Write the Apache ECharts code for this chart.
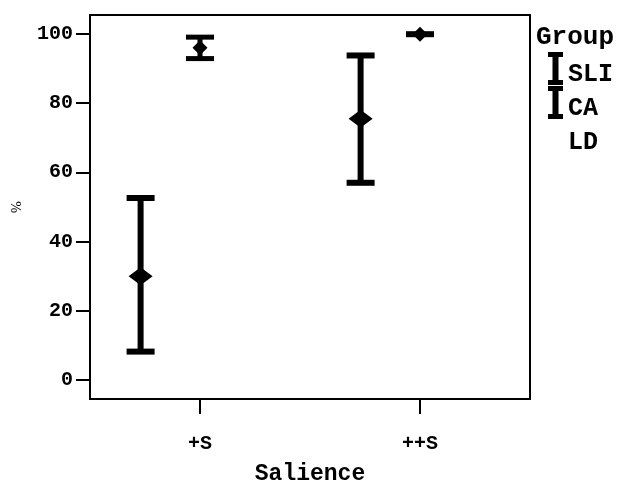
<!DOCTYPE html>
<html>
<head>
<meta charset="utf-8">
<script src="https://cdn.jsdelivr.net/npm/echarts@6/dist/echarts.min.js"></script>
<style>html,body{margin:0;padding:0;background:#fff;}#c{width:618px;height:482px;}</style>
</head>
<body>
<div id="c"></div>
<script>
// ---- data ----
var categories = ['+S', '++S'];
var groups = ['SLI', 'CA', 'LD'];
var sliMean = [30.0, 75.5];
var sliLow  = [8.2, 57.0];
var sliHigh = [52.6, 93.8];
var caMean  = [96.0, 99.9];
var caLow   = [92.9, 99.8];
var caHigh  = [99.1, 100.1];
var ldMean  = [];
var ldLow   = [];
var ldHigh  = [];
var yTicks  = [0, 20, 40, 60, 80, 100];

var FONT = '"Liberation Mono", "DejaVu Sans Mono", monospace';

function rows(mean, low, high) {
  var out = [];
  for (var i = 0; i < mean.length; i++) out.push([i, mean[i], low[i], high[i]]);
  return out;
}

function makeRender(offset, lw, capW, capH, dW, dH) {
  return function (params, api) {
    var ci = api.value(0);
    var c = api.coord([ci, api.value(1)]);
    var lo = api.coord([ci, api.value(2)]);
    var hi = api.coord([ci, api.value(3)]);
    var band = api.size([1, 0])[0];
    var x = c[0] + band * offset;
    var st = { fill: '#000' };
    return {
      type: 'group',
      children: [
        { type: 'rect', shape: { x: x - lw / 2, y: hi[1], width: lw, height: lo[1] - hi[1] }, style: st },
        { type: 'rect', shape: { x: x - capW / 2, y: hi[1] - capH / 2, width: capW, height: capH }, style: st },
        { type: 'rect', shape: { x: x - capW / 2, y: lo[1] - capH / 2, width: capW, height: capH }, style: st },
        { type: 'polygon', shape: { points: [[x, c[1] - dH / 2], [x + dW / 2, c[1]], [x, c[1] + dH / 2], [x - dW / 2, c[1]]] }, style: st }
      ]
    };
  };
}

var barIcon = 'path://M0 0H15V5H10.5V28H15V33H0V28H4.5V5H0Z';

var chart = echarts.init(document.getElementById('c'), null, { renderer: 'canvas' });
chart.setOption({
  animation: false,
  backgroundColor: '#fff',
  title: {
    text: 'Group', left: 536, top: 24, padding: 0,
    textStyle: { fontFamily: FONT, fontWeight: 'bold', fontSize: 26, color: '#000' }
  },
  legend: {
    orient: 'vertical', left: 548, top: 50, padding: 0,
    itemWidth: 15, itemHeight: 33, itemGap: -3,
    selectedMode: false,
    formatter: '{t|{name}}',
    textStyle: {
      color: '#000',
      rich: { t: { fontFamily: FONT, fontWeight: 'bold', fontSize: 25, lineHeight: 20, color: '#000', padding: [12, 0, 0, 0] } }
    },
    data: [
      { name: groups[0], icon: barIcon, itemStyle: { color: '#000' } },
      { name: groups[1], icon: barIcon, itemStyle: { color: '#000' } },
      { name: groups[2], icon: 'rect', itemStyle: { color: 'rgba(0,0,0,0)', borderWidth: 0 } }
    ]
  },
  grid: {
    left: 90, top: 15, right: 88, bottom: 83,
    outerBoundsMode: 'none', containLabel: false,
    show: true, borderColor: '#000', borderWidth: 2, backgroundColor: '#fff'
  },
  xAxis: {
    type: 'category', data: categories,
    axisLine: { onZero: false, lineStyle: { color: '#000', width: 2 } },
    axisTick: { show: true, alignWithLabel: true, length: 15, lineStyle: { color: '#000', width: 2 } },
    axisLabel: { margin: 35, fontFamily: FONT, fontWeight: 'bold', fontSize: 20, color: '#000' },
    name: 'Salience', nameLocation: 'middle', nameGap: 64,
    nameTextStyle: { fontFamily: FONT, fontWeight: 'bold', fontSize: 23, color: '#000' },
    splitLine: { show: false }
  },
  yAxis: {
    type: 'value', min: -5.5, max: 105.5,
    axisLine: { show: true, lineStyle: { color: '#000', width: 2 } },
    axisTick: { show: true, length: 14, customValues: yTicks, lineStyle: { color: '#000', width: 2 } },
    axisLabel: { margin: 17, customValues: yTicks, fontFamily: FONT, fontWeight: 'bold', fontSize: 20, color: '#000' },
    splitLine: { show: false },
    name: '%', nameLocation: 'middle', nameGap: 66, nameRotate: 90,
    nameTextStyle: { fontFamily: '"DejaVu Serif", serif', fontSize: 13, color: '#000' }
  },
  series: [
    { name: groups[0], type: 'custom', legendIcon: barIcon, itemStyle: { color: '#000' },
      renderItem: makeRender(-0.27, 6, 28, 6, 24, 18), data: rows(sliMean, sliLow, sliHigh), z: 3 },
    { name: groups[1], type: 'custom', legendIcon: barIcon, itemStyle: { color: '#000' },
      renderItem: makeRender(0, 5, 28, 5, 15, 15), data: rows(caMean, caLow, caHigh), z: 3 },
    { name: groups[2], type: 'custom', itemStyle: { color: '#000' },
      renderItem: makeRender(0.27, 5, 28, 5, 15, 15), data: rows(ldMean, ldLow, ldHigh), z: 3 }
  ]
});
</script>
</body>
</html>
